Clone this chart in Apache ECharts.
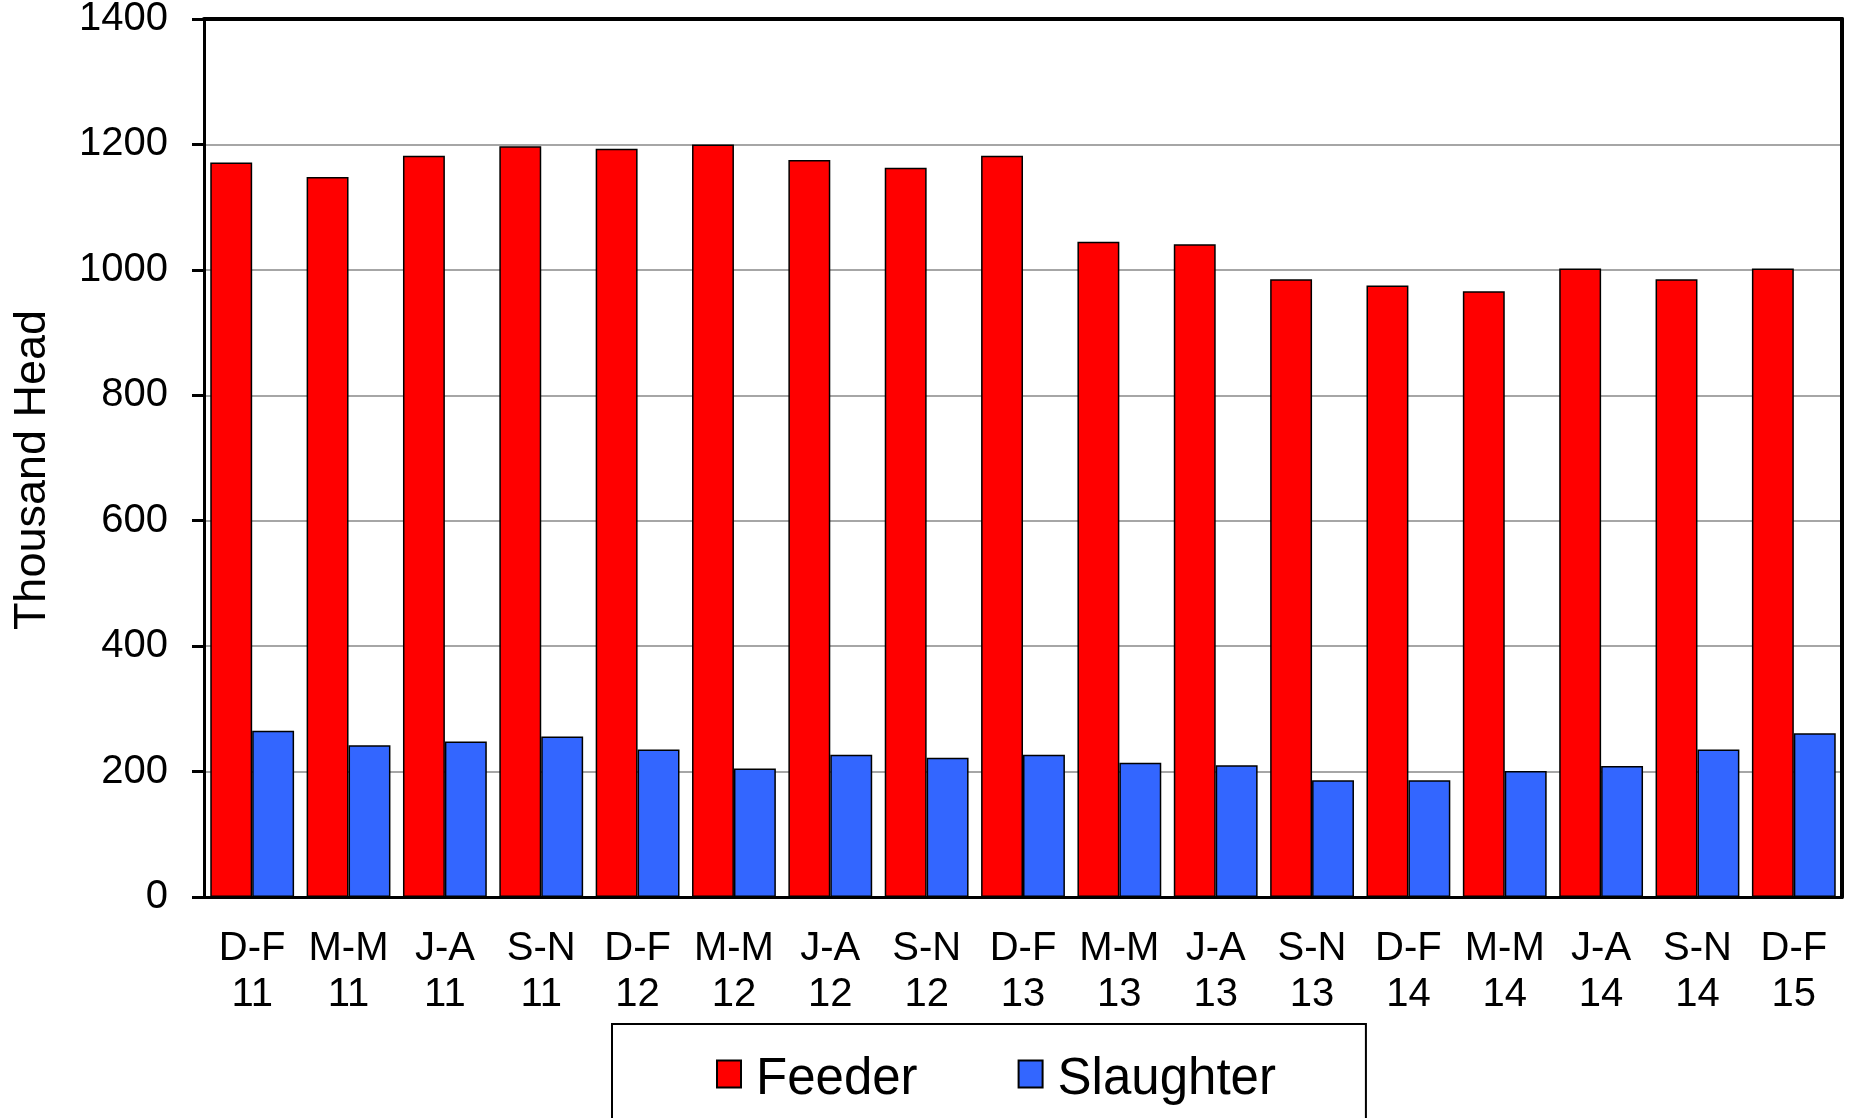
<!DOCTYPE html>
<html>
<head>
<meta charset="utf-8">
<script src="https://cdn.jsdelivr.net/npm/echarts@6/dist/echarts.min.js"></script>
<style>
html,body{margin:0;padding:0;background:#fff;}
#chart{width:1849px;height:1118px;}
</style>
</head>
<body>
<div id="chart"></div>
<script>
const categories = ["D-F\n11","M-M\n11","J-A\n11","S-N\n11","D-F\n12","M-M\n12","J-A\n12","S-N\n12","D-F\n13","M-M\n13","J-A\n13","S-N\n13","D-F\n14","M-M\n14","J-A\n14","S-N\n14","D-F\n15"];
const feeder = [1171,1148,1182,1197,1193,1200,1175,1163,1182,1045,1041,985,975,966,1002,985,1002];
const slaughter = [265,242,248,256,235,205,227,222,227,214,210,186,186,201,209,235,261];
const seriesNames = ["Feeder","Slaughter"];
const yTicks = {min:0, max:1400, interval:200};

const FONT = "'Liberation Sans', Arial, sans-serif";
const chart = echarts.init(document.getElementById('chart'));
chart.setOption({
  backgroundColor:'#fff',
  animation:false,
  grid:{left:204, right:7, top:19, bottom:221, outerBoundsMode:'none', containLabel:false},
  legend:{
    data:seriesNames,
    left:612, top:1024,
    orient:'horizontal',
    icon:'path://M0,38M0,0H24V27H0Z',
    itemWidth:24, itemHeight:38, itemGap:100,
    padding:[30,90,80,104],
    borderColor:'#000', borderWidth:2,
    backgroundColor:'#fff',
    textStyle:{fontFamily:FONT, fontSize:51, color:'#000', padding:[0,0,0,10]}
  },
  xAxis:[{
    type:'category', data:categories,
    axisLine:{show:true, lineStyle:{color:'#000', width:3}},
    axisTick:{show:false},
    axisLabel:{fontFamily:FONT, fontSize:40, color:'#000', lineHeight:46, margin:29, interval:0}
  },{
    type:'category', data:categories, position:'top',
    axisLine:{show:true, onZero:false, lineStyle:{color:'#000', width:4}},
    axisTick:{show:false}, axisLabel:{show:false}, splitLine:{show:false}
  }],
  yAxis:[{
    type:'value', min:yTicks.min, max:yTicks.max, interval:yTicks.interval,
    name:'Thousand Head', nameLocation:'middle', nameGap:149, nameRotate:90,
    nameTextStyle:{fontFamily:FONT, fontSize:45, color:'#000', padding:[0,24,0,0]},
    axisLine:{show:true, lineStyle:{color:'#000', width:3}},
    axisTick:{show:true, length:12, lineStyle:{color:'#000', width:3}},
    axisLabel:{fontFamily:FONT, fontSize:40, color:'#000', margin:36, formatter:function(v){return String(v);}},
    splitLine:{show:true, showMaxLine:false, showMinLine:false, lineStyle:{color:'#a6a6a6', width:2}}
  },{
    type:'value', min:yTicks.min, max:yTicks.max, interval:yTicks.interval, position:'right',
    axisLine:{show:true, onZero:false, lineStyle:{color:'#000', width:4}},
    axisTick:{show:false}, axisLabel:{show:false}, splitLine:{show:false}
  }],
  series:[
    {name:seriesNames[0], type:'bar', data:feeder, barGap:'0%', barCategoryGap:'13%',
     itemStyle:{color:'#ff0000', borderColor:'#000', borderWidth:1.5}},
    {name:seriesNames[1], type:'bar', data:slaughter, barGap:'0%', barCategoryGap:'13%',
     itemStyle:{color:'#3366ff', borderColor:'#000', borderWidth:1.5}}
  ]
});
</script>
</body>
</html>
